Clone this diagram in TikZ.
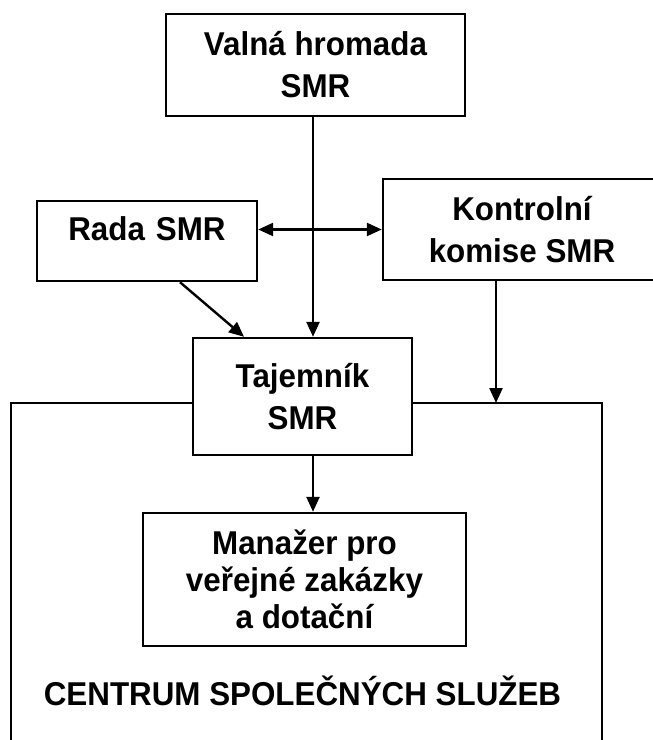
\documentclass[tikz,border=0pt]{standalone}
\usepackage{fontspec}
\setmainfont{Liberation Sans}[FakeStretch=0.95]
\usetikzlibrary{arrows.meta}

\begin{document}
\begin{tikzpicture}[x=0.5pt,y=-0.5pt,
    box/.style={draw, line width=1.2pt, fill=white, align=center, inner sep=0pt,
        font=\bfseries\fontsize{16.5}{21}\selectfont},
    arr/.style={line width=1.2pt, -{Triangle[length=7.5pt,width=6.5pt]}}]
    \useasboundingbox (0,0) rectangle (653,740);
    \draw[line width=1.2pt] (11,740) -- (11,403) -- (602,403) -- (602,740);
    \coordinate (centrumtop) at (496,403);
    \coordinate (vline) at (313,0);
    \node[box, minimum width=149.5pt, minimum height=51pt] (valna) at (315.5,65) {Valná hromada\\SMR};
    \node[box, text width=110pt, text height=19.5pt, text depth=20.5pt] (rada) at (147,241) {Rada SMR};
    \node[box, minimum width=139pt, minimum height=50.5pt] (kontrolni) at (522,229.5) {Kontrolní\\komise SMR};
    \node[box, minimum width=109.5pt, minimum height=58.5pt] (tajemnik) at (302.5,396.5) {Tajemník\\SMR};
    \node[box, minimum width=161.5pt, minimum height=66.5pt, font=\bfseries\fontsize{16.5}{18.5}\selectfont] (manazer) at (304.5,579.5) {Manažer pro\\veřejné zakázky\\a dotační};
    \node[font=\bfseries\fontsize{16.5}{21}\selectfont] (centrum) at (302.5,691) {CENTRUM SPOLEČNÝCH SLUŽEB};
    \draw[arr] (vline |- valna.south) -- (vline |- tajemnik.north);
    \draw[arr] ([xshift=16.5pt]rada.south) -- ([xshift=-29.25pt]tajemnik.north);
    \draw[arr] ([xshift=-13pt]kontrolni.south) -- (centrumtop);
    \draw[line width=1.2pt, {Triangle[length=7.5pt,width=6.5pt]}-{Triangle[length=7.5pt,width=6.5pt]}] (rada.east |- kontrolni.west) -- (kontrolni.west);
    \draw[arr] (vline |- tajemnik.south) -- (vline |- manazer.north);
\end{tikzpicture}
\end{document}
